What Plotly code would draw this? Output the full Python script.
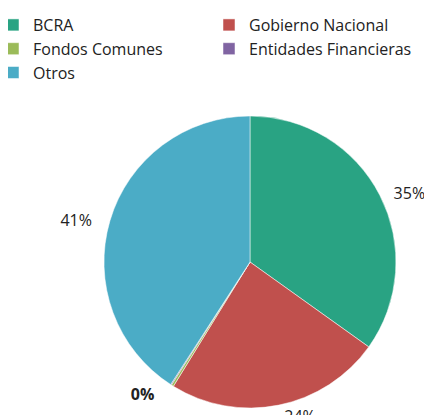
import plotly.graph_objects as go

categories = ["BCRA", "Gobierno Nacional", "Fondos Comunes", "Entidades Financieras", "Otros"]
values = [35.0, 24.0, 0.25, 0.1, 41.0]
colors = ["#29A383", "#C0504D", "#9BBB59", "#8064A2", "#4BACC6"]

pad = "&nbsp;" * 3
templates = [
    "&nbsp;&nbsp;%{percent:.0%}",
    "%{percent:.0%}",
    "<b>%{percent:.0%}</b>" + pad,
    "",
    "%{percent:.0%}" + pad,
]

fig = go.Figure(go.Pie(
    labels=categories,
    values=values,
    marker=dict(colors=colors, line=dict(color="white", width=0.5)),
    sort=False,
    direction="clockwise",
    rotation=0,
    texttemplate=templates,
    textposition="outside",
    textfont=dict(family="Open Sans", size=16, color="#222222"),
    domain=dict(x=[0.2222, 0.8981], y=[0.0361, 0.7398]),
    automargin=False,
    hoverinfo="label+percent",
))

fig.update_layout(
    width=432, height=415,
    margin=dict(l=0, r=0, t=0, b=0),
    paper_bgcolor="white",
    showlegend=True,
    legend=dict(
        orientation="h",
        x=0, y=1, xanchor="left", yanchor="top",
        entrywidth=0.5, entrywidthmode="fraction",
        indentation=-15,
        font=dict(family="Open Sans", size=16, color="#222222"),
        itemwidth=30,
        tracegroupgap=0,
    ),
)

fig.write_html("out.html")
